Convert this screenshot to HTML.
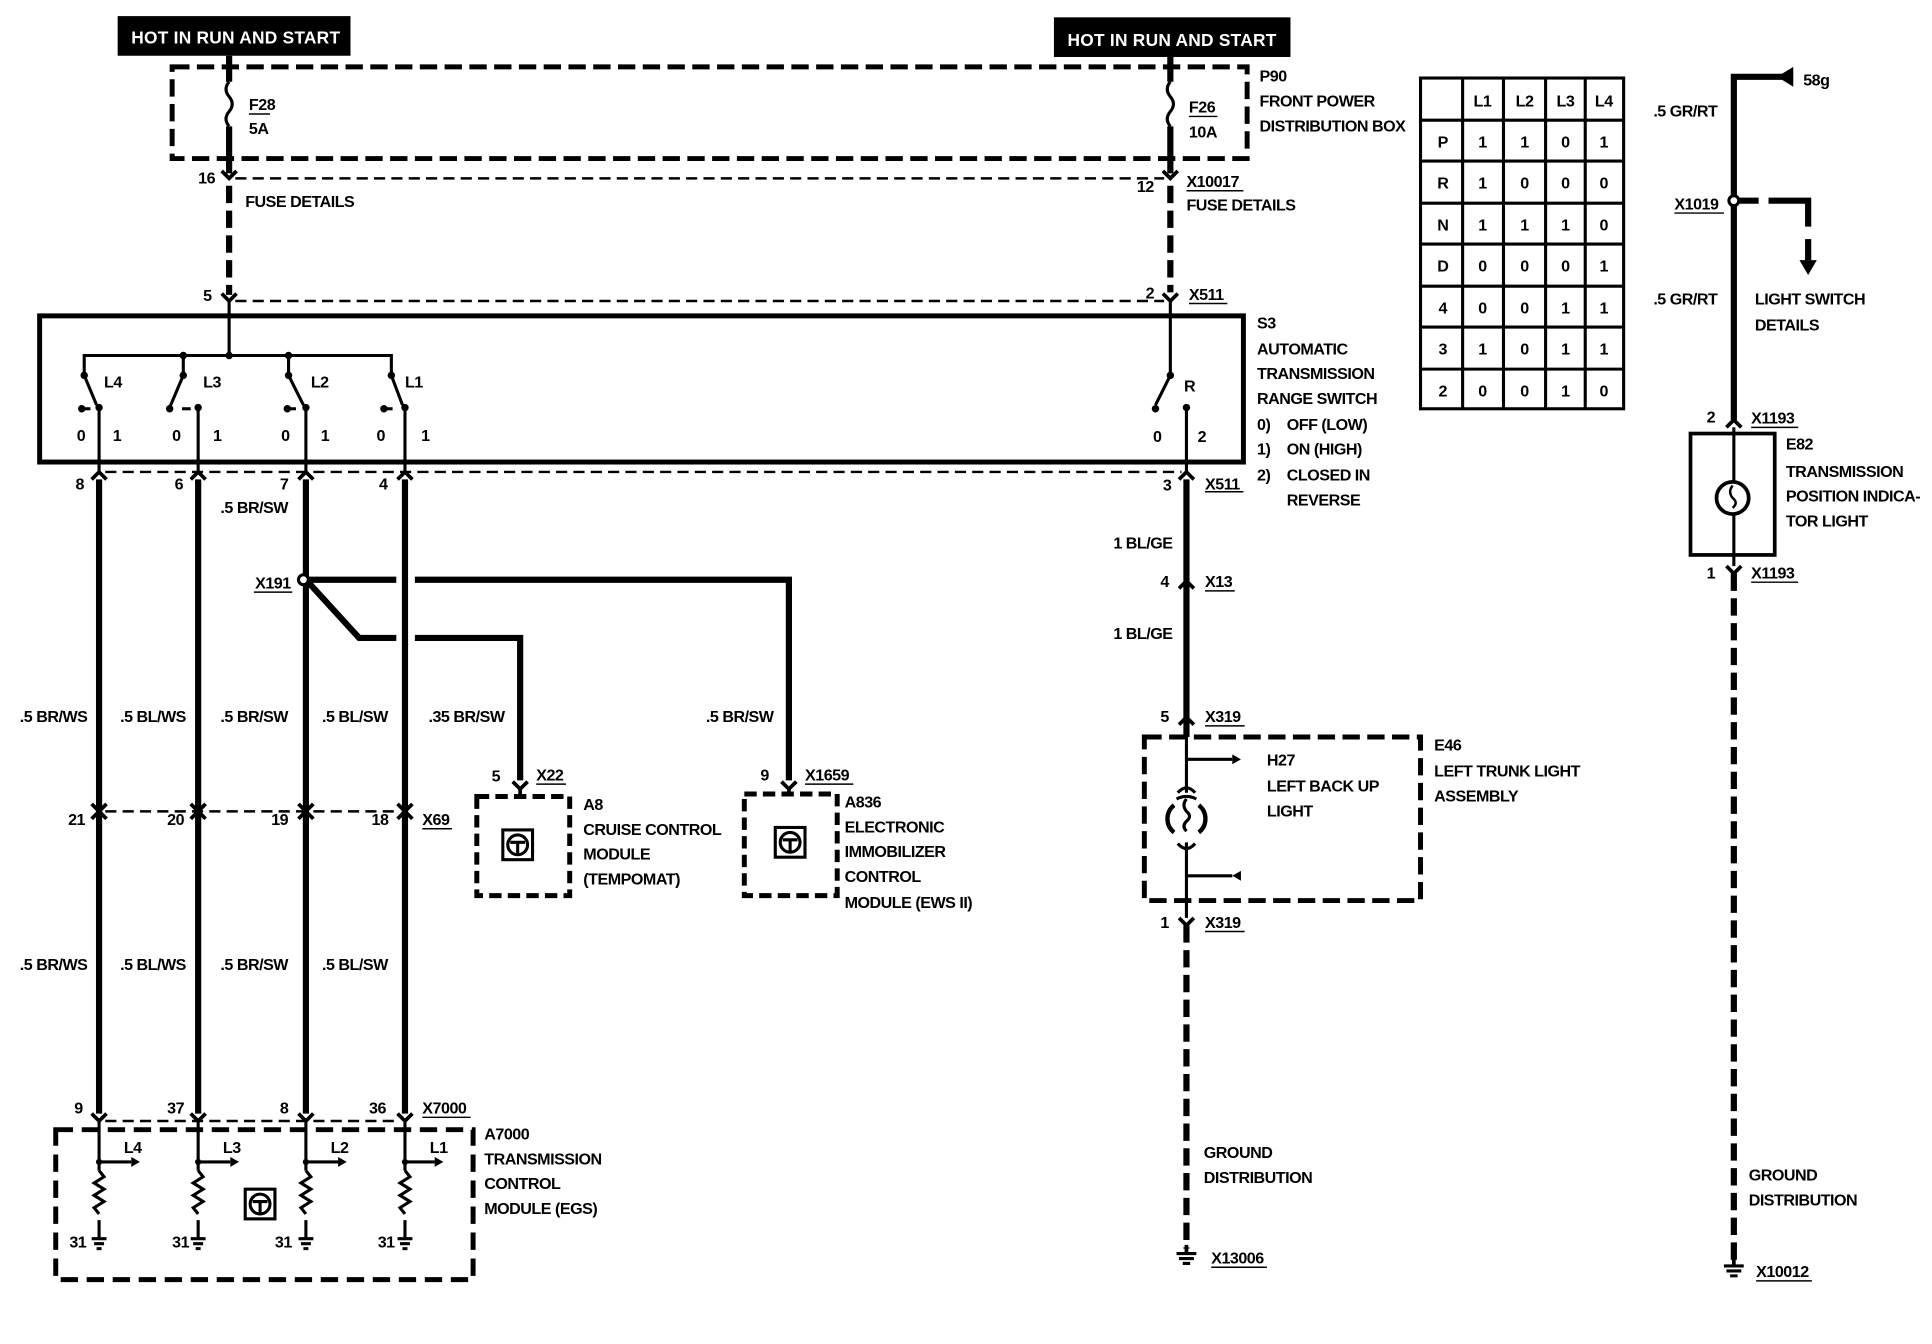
<!DOCTYPE html>
<html><head><meta charset="utf-8"><style>
html,body{margin:0;padding:0;background:#fff;}
svg{display:block;}
text{font-family:"Liberation Sans",sans-serif;font-size:13px;font-weight:bold;fill:#000;letter-spacing:-0.4px;}
.w{fill:#fff;font-size:14px;letter-spacing:0.2px;}
.t{font-size:13px;text-anchor:middle;}
</style></head><body>
<svg width="1932" height="1344" viewBox="0 0 1560 1085" preserveAspectRatio="none" xmlns="http://www.w3.org/2000/svg">
<g fill="none" stroke="#000" stroke-linecap="butt">
<!-- HOT boxes -->
<rect x="95" y="13" width="188" height="32" fill="#000" stroke="none"/>
<rect x="851" y="14" width="191" height="32" fill="#000" stroke="none"/>
<!-- P90 dashed box -->
<rect x="139" y="54" width="868" height="74" stroke-width="4" stroke-dasharray="14,6"/>
<!-- left feed -->
<line x1="185" y1="45" x2="185" y2="66" stroke-width="5"/>
<path d="M185 66 q-5 6 0 12 q5 6 0 12 q-5 6 0 12" stroke-width="2.5"/>
<line x1="185" y1="102" x2="185" y2="140" stroke-width="5"/>
<line x1="185" y1="150" x2="185" y2="238" stroke-width="5" stroke-dasharray="14,6"/>
<!-- right feed -->
<line x1="945" y1="46" x2="945" y2="66" stroke-width="5"/>
<path d="M945 66 q-5 6 0 12 q5 6 0 12 q-5 6 0 12" stroke-width="2.5"/>
<line x1="945" y1="102" x2="945" y2="140" stroke-width="5"/>
<line x1="945" y1="150" x2="945" y2="236" stroke-width="5" stroke-dasharray="14,6"/>
<!-- thin dashed connector lines -->
<line x1="190" y1="144" x2="940" y2="144" stroke-width="2" stroke-dasharray="9,5"/>
<line x1="190" y1="243" x2="940" y2="243" stroke-width="2" stroke-dasharray="9,5"/>
<line x1="85" y1="381" x2="954" y2="381" stroke-width="2" stroke-dasharray="9,5"/>
<line x1="85" y1="655" x2="322" y2="655" stroke-width="2" stroke-dasharray="9,5"/>
<line x1="85" y1="905" x2="322" y2="905" stroke-width="2" stroke-dasharray="9,5"/>
<!-- connectors -->
<g stroke-width="3">
<polyline points="179,138 185,144 191,138"/>
<polyline points="179,237 185,243 191,237"/>
<polyline points="939,138 945,144 951,138"/>
<polyline points="939,237 945,243 951,237"/>
<polyline points="74,387 80,381 86,387"/>
<polyline points="154,387 160,381 166,387"/>
<polyline points="241,387 247,381 253,387"/>
<polyline points="321,387 327,381 333,387"/>
<polyline points="952,387 958,381 964,387"/>
<polyline points="952,475 958,469 964,475"/>
<polyline points="952,585 958,579 964,585"/>
<polyline points="952,741 958,747 964,741"/>
<polyline points="74,649 80,655 86,649"/><polyline points="74,661 80,655 86,661"/>
<polyline points="154,649 160,655 166,649"/><polyline points="154,661 160,655 166,661"/>
<polyline points="241,649 247,655 253,649"/><polyline points="241,661 247,655 253,661"/>
<polyline points="321,649 327,655 333,649"/><polyline points="321,661 327,655 333,661"/>
<polyline points="74,899 80,905 86,899"/>
<polyline points="154,899 160,905 166,899"/>
<polyline points="241,899 247,905 253,899"/>
<polyline points="321,899 327,905 333,899"/>
<polyline points="414,631 420,637 426,631"/>
<polyline points="631,631 637,637 643,631"/>
<polyline points="1394,345 1400,339 1406,345"/>
<polyline points="1394,457 1400,463 1406,457"/>
</g>
<!-- S3 box -->
<rect x="32" y="255" width="972" height="118" stroke-width="4"/>
<line x1="185" y1="243" x2="185" y2="287" stroke-width="2.5"/>
<polyline points="68,303 68,287 316,287 316,303" stroke-width="2.5"/>
<line x1="148" y1="287" x2="148" y2="303" stroke-width="2.5"/>
<line x1="233" y1="287" x2="233" y2="303" stroke-width="2.5"/>
<g stroke-width="2.5">
<line x1="68" y1="303" x2="78" y2="327"/><line x1="80" y1="329" x2="80" y2="381"/>
<line x1="148" y1="303" x2="137" y2="329"/><line x1="160" y1="329" x2="160" y2="381"/>
<line x1="233" y1="303" x2="245" y2="327"/><line x1="247" y1="329" x2="247" y2="381"/>
<line x1="316" y1="303" x2="325" y2="327"/><line x1="327" y1="329" x2="327" y2="381"/>
<line x1="945" y1="243" x2="945" y2="303"/><line x1="945" y1="303" x2="933" y2="327"/><line x1="958" y1="329" x2="958" y2="381"/>
<line x1="66" y1="330" x2="73" y2="330"/><line x1="147" y1="330" x2="154" y2="330"/><line x1="232" y1="330" x2="239" y2="330"/><line x1="310" y1="330" x2="317" y2="330"/>
</g>
<g fill="#000" stroke="none">
<circle cx="185" cy="287" r="3"/><circle cx="68" cy="303" r="3"/><circle cx="148" cy="287" r="3"/><circle cx="148" cy="303" r="3"/><circle cx="233" cy="287" r="3"/><circle cx="233" cy="303" r="3"/><circle cx="316" cy="303" r="3"/>
<circle cx="80" cy="329" r="3"/><circle cx="160" cy="329" r="3"/><circle cx="247" cy="329" r="3"/><circle cx="327" cy="329" r="3"/>
<circle cx="66" cy="330" r="3"/><circle cx="137" cy="330" r="3"/><circle cx="232" cy="330" r="3"/><circle cx="310" cy="330" r="3"/>
<circle cx="945" cy="303" r="3"/><circle cx="958" cy="329" r="3"/><circle cx="933" cy="330" r="3"/>
</g>
<!-- thick wires down -->
<g stroke-width="5">
<line x1="80" y1="387" x2="80" y2="899"/>
<line x1="160" y1="387" x2="160" y2="899"/>
<line x1="247" y1="387" x2="247" y2="899"/>
<line x1="327" y1="387" x2="327" y2="899"/>
<polyline points="247,468 320,468"/>
<polyline points="335,468 637,468 637,630"/>
<polyline points="247,468 290,515 320,515"/>
<polyline points="335,515 420,515 420,630"/>
<line x1="958" y1="387" x2="958" y2="595"/>
</g>
<circle cx="245" cy="468" r="4" fill="#fff" stroke-width="2.5"/>
<!-- A8, A836 -->
<rect x="385" y="643" width="75" height="80" stroke-width="4" stroke-dasharray="10,5"/>
<rect x="601" y="641" width="75" height="82" stroke-width="4" stroke-dasharray="10,5"/>
<line x1="420" y1="637" x2="420" y2="643" stroke-width="3"/>
<line x1="637" y1="637" x2="637" y2="641" stroke-width="3"/>
<g stroke-width="2.5">
<rect x="406" y="670" width="24" height="24"/><circle cx="418" cy="682" r="8"/><path d="M412 680 h12 M418 680 v10"/>
<rect x="626" y="668" width="24" height="24"/><circle cx="638" cy="680" r="8"/><path d="M632 678 h12 M638 678 v10"/>
<rect x="198" y="960" width="24" height="24"/><circle cx="210" cy="972" r="8"/><path d="M204 970 h12 M210 970 v10"/>
</g>
<!-- A7000 -->
<rect x="45" y="912" width="337" height="121" stroke-width="4" stroke-dasharray="14,7"/>
<g stroke-width="2.5">
<line x1="80" y1="905" x2="80" y2="945"/><line x1="80" y1="985" x2="80" y2="1000"/>
<line x1="160" y1="905" x2="160" y2="945"/><line x1="160" y1="985" x2="160" y2="1000"/>
<line x1="247" y1="905" x2="247" y2="945"/><line x1="247" y1="985" x2="247" y2="1000"/>
<line x1="327" y1="905" x2="327" y2="945"/><line x1="327" y1="985" x2="327" y2="1000"/>
<line x1="80" y1="938" x2="106" y2="938"/><line x1="160" y1="938" x2="186" y2="938"/><line x1="247" y1="938" x2="273" y2="938"/><line x1="327" y1="938" x2="351" y2="938"/>
<path d="M80 945 l4 5 l-8 5 l8 5 l-8 5 l8 5 l-8 5 l4 5"/>
<path d="M160 945 l4 5 l-8 5 l8 5 l-8 5 l8 5 l-8 5 l4 5"/>
<path d="M247 945 l4 5 l-8 5 l8 5 l-8 5 l8 5 l-8 5 l4 5"/>
<path d="M327 945 l4 5 l-8 5 l8 5 l-8 5 l8 5 l-8 5 l4 5"/>
<path d="M74 1000 h12 M76 1004 h8 M78 1008 h4"/>
<path d="M154 1000 h12 M156 1004 h8 M158 1008 h4"/>
<path d="M241 1000 h12 M243 1004 h8 M245 1008 h4"/>
<path d="M321 1000 h12 M323 1004 h8 M325 1008 h4"/>
</g>
<g fill="#000" stroke="none">
<path d="M106 934 l7 4 l-7 4z"/><path d="M186 934 l7 4 l-7 4z"/><path d="M273 934 l7 4 l-7 4z"/><path d="M351 934 l7 4 l-7 4z"/>
<circle cx="80" cy="938" r="2.5"/><circle cx="160" cy="938" r="2.5"/><circle cx="247" cy="938" r="2.5"/><circle cx="327" cy="938" r="2.5"/>
</g>
<!-- E46 -->
<rect x="924" y="595" width="223" height="132" stroke-width="4" stroke-dasharray="14,6"/>
<g stroke-width="2.5">
<line x1="958" y1="585" x2="958" y2="640"/>
<line x1="958" y1="680" x2="958" y2="741"/>
<line x1="958" y1="613" x2="995" y2="613"/>
<line x1="958" y1="707" x2="995" y2="707"/>
<path d="M951 640 q7 -8 14 0"/><path d="M951 681 q7 8 14 0"/>
<path d="M948 650 a14 14 0 0 0 0 22" stroke-width="3.5"/><path d="M968 650 a14 14 0 0 1 0 22" stroke-width="3.5"/>
<path d="M950 645 q8 -4 16 0"/>
<path d="M958 645 q-4 5 0 10 q5 4 0 8 q-4 4 0 8"/>
</g>
<path d="M995 609 l7 4 l-7 4z" fill="#000" stroke="none"/>
<path d="M1002 703 l-7 4 l7 4z" fill="#000" stroke="none"/>
<line x1="958" y1="747" x2="958" y2="1008" stroke-width="5" stroke-dasharray="14,6"/>
<path d="M950 1012 h16 M952 1016 h12 M955 1020 h6" stroke-width="2.5"/>
<line x1="958" y1="1005" x2="958" y2="1012" stroke-width="3"/>
<!-- table -->
<g stroke-width="2.5">
<rect x="1147" y="63" width="164" height="267"/>
<line x1="1181" y1="63" x2="1181" y2="330"/><line x1="1214" y1="63" x2="1214" y2="330"/><line x1="1248" y1="63" x2="1248" y2="330"/><line x1="1280" y1="63" x2="1280" y2="330"/>
<line x1="1147" y1="97" x2="1311" y2="97"/><line x1="1147" y1="130" x2="1311" y2="130"/><line x1="1147" y1="164" x2="1311" y2="164"/><line x1="1147" y1="197" x2="1311" y2="197"/><line x1="1147" y1="231" x2="1311" y2="231"/><line x1="1147" y1="264" x2="1311" y2="264"/><line x1="1147" y1="298" x2="1311" y2="298"/>
</g>
<!-- far right -->
<polyline points="1400,339 1400,62 1440,62" stroke-width="5"/>
<path d="M1435 62 l13 -8 v16z" fill="#000" stroke="none"/>
<line x1="1404" y1="162" x2="1420" y2="162" stroke-width="5"/>
<polyline points="1428,162 1460,162 1460,183" stroke-width="5"/>
<line x1="1460" y1="193" x2="1460" y2="210" stroke-width="5"/>
<path d="M1453 210 h14 l-7 12z" fill="#000" stroke="none"/>
<circle cx="1400" cy="162" r="4" fill="#fff" stroke-width="2.5"/>
<rect x="1365" y="350" width="68" height="98" stroke-width="3"/>
<line x1="1400" y1="345" x2="1400" y2="388" stroke-width="2.5"/>
<line x1="1400" y1="416" x2="1400" y2="457" stroke-width="2.5"/>
<circle cx="1399" cy="402" r="13" stroke-width="3"/>
<path d="M1399 392 q-4 5 0 10 q5 4 0 8" stroke-width="2"/>
<line x1="1400" y1="463" x2="1400" y2="1018" stroke-width="5" stroke-dasharray="14,6"/>
<path d="M1392 1022 h16 M1394 1026 h12 M1397 1030 h6" stroke-width="2.5"/>
<line x1="1400" y1="1015" x2="1400" y2="1022" stroke-width="3"/>
<!-- underlines -->
<g stroke-width="1.2">
<line x1="201" y1="92" x2="218" y2="92"/><line x1="960" y1="94" x2="983" y2="94"/>
<line x1="958" y1="154" x2="1004" y2="154"/><line x1="960" y1="245" x2="991" y2="245"/><line x1="973" y1="397" x2="1004" y2="397"/>
<line x1="973" y1="477" x2="997" y2="477"/><line x1="973" y1="586" x2="1005" y2="586"/><line x1="973" y1="752" x2="1005" y2="752"/>
<line x1="205" y1="478" x2="236" y2="478"/><line x1="433" y1="633" x2="457" y2="633"/><line x1="650" y1="633" x2="689" y2="633"/>
<line x1="341" y1="669" x2="365" y2="669"/><line x1="341" y1="902" x2="380" y2="902"/>
<line x1="1352" y1="172" x2="1392" y2="172"/><line x1="1414" y1="345" x2="1452" y2="345"/><line x1="1414" y1="470" x2="1452" y2="470"/>
<line x1="978" y1="1023" x2="1023" y2="1023"/><line x1="1418" y1="1034" x2="1463" y2="1034"/>
</g>
</g>
<!-- TEXT -->
<text class="w" x="106" y="35">HOT IN RUN AND START</text>
<text class="w" x="862" y="37">HOT IN RUN AND START</text>
<text x="201" y="89">F28</text><text x="201" y="108">5A</text>
<text x="960" y="91">F26</text><text x="960" y="111">10A</text>
<text x="1017" y="66">P90</text><text x="1017" y="86">FRONT POWER</text><text x="1017" y="106">DISTRIBUTION BOX</text>
<text x="160" y="148">16</text><text x="198" y="167">FUSE DETAILS</text>
<text x="918" y="155">12</text><text x="958" y="151">X10017</text><text x="958" y="170">FUSE DETAILS</text>
<text x="164" y="243">5</text><text x="925" y="241">2</text><text x="960" y="242">X511</text>
<text x="1015" y="265">S3</text><text x="1015" y="286">AUTOMATIC</text><text x="1015" y="306">TRANSMISSION</text><text x="1015" y="326">RANGE SWITCH</text>
<text x="1015" y="347">0)</text><text x="1039" y="347">OFF (LOW)</text>
<text x="1015" y="367">1)</text><text x="1039" y="367">ON (HIGH)</text>
<text x="1015" y="388">2)</text><text x="1039" y="388">CLOSED IN</text><text x="1039" y="408">REVERSE</text>
<text x="84" y="313">L4</text><text x="164" y="313">L3</text><text x="251" y="313">L2</text><text x="327" y="313">L1</text><text x="956" y="316">R</text>
<text x="62" y="356">0</text><text x="91" y="356">1</text><text x="139" y="356">0</text><text x="172" y="356">1</text><text x="227" y="356">0</text><text x="259" y="356">1</text><text x="304" y="356">0</text><text x="340" y="356">1</text>
<text x="931" y="357">0</text><text x="967" y="357">2</text>
<text x="61" y="395">8</text><text x="141" y="395">6</text><text x="226" y="395">7</text><text x="306" y="395">4</text>
<text x="939" y="396">3</text><text x="973" y="395">X511</text>
<text x="178" y="414">.5 BR/SW</text>
<text x="206" y="475">X191</text>
<text x="899" y="443">1 BL/GE</text><text x="937" y="474">4</text><text x="973" y="474">X13</text>
<text x="899" y="516">1 BL/GE</text><text x="937" y="583">5</text><text x="973" y="583">X319</text>
<text x="16" y="583">.5 BR/WS</text><text x="97" y="583">.5 BL/WS</text><text x="178" y="583">.5 BR/SW</text><text x="260" y="583">.5 BL/SW</text><text x="346" y="583">.35 BR/SW</text><text x="570" y="583">.5 BR/SW</text>
<text x="397" y="631">5</text><text x="433" y="630">X22</text><text x="614" y="630">9</text><text x="650" y="630">X1659</text>
<text x="471" y="654">A8</text><text x="471" y="674">CRUISE CONTROL</text><text x="471" y="694">MODULE</text><text x="471" y="714">(TEMPOMAT)</text>
<text x="682" y="652">A836</text><text x="682" y="672">ELECTRONIC</text><text x="682" y="692">IMMOBILIZER</text><text x="682" y="712">CONTROL</text><text x="682" y="733">MODULE (EWS II)</text>
<text x="55" y="666">21</text><text x="135" y="666">20</text><text x="219" y="666">19</text><text x="300" y="666">18</text><text x="341" y="666">X69</text>
<text x="1023" y="618">H27</text><text x="1023" y="639">LEFT BACK UP</text><text x="1023" y="659">LIGHT</text>
<text x="1158" y="606">E46</text><text x="1158" y="627">LEFT TRUNK LIGHT</text><text x="1158" y="647">ASSEMBLY</text>
<text x="937" y="749">1</text><text x="973" y="749">X319</text>
<text x="16" y="783">.5 BR/WS</text><text x="97" y="783">.5 BL/WS</text><text x="178" y="783">.5 BR/SW</text><text x="260" y="783">.5 BL/SW</text>
<text x="60" y="899">9</text><text x="135" y="899">37</text><text x="226" y="899">8</text><text x="298" y="899">36</text><text x="341" y="899">X7000</text>
<text x="391" y="920">A7000</text><text x="391" y="940">TRANSMISSION</text><text x="391" y="960">CONTROL</text><text x="391" y="980">MODULE (EGS)</text>
<text x="100" y="931">L4</text><text x="180" y="931">L3</text><text x="267" y="931">L2</text><text x="347" y="931">L1</text>
<text x="56" y="1007">31</text><text x="139" y="1007">31</text><text x="222" y="1007">31</text><text x="305" y="1007">31</text>
<text x="972" y="935">GROUND</text><text x="972" y="955">DISTRIBUTION</text><text x="978" y="1020">X13006</text>
<text class="t" x="1197" y="86">L1</text><text class="t" x="1231" y="86">L2</text><text class="t" x="1264" y="86">L3</text><text class="t" x="1295" y="86">L4</text>
<text class="t" x="1165" y="119">P</text><text class="t" x="1197" y="119">1</text><text class="t" x="1231" y="119">1</text><text class="t" x="1264" y="119">0</text><text class="t" x="1295" y="119">1</text>
<text class="t" x="1165" y="152">R</text><text class="t" x="1197" y="152">1</text><text class="t" x="1231" y="152">0</text><text class="t" x="1264" y="152">0</text><text class="t" x="1295" y="152">0</text>
<text class="t" x="1165" y="186">N</text><text class="t" x="1197" y="186">1</text><text class="t" x="1231" y="186">1</text><text class="t" x="1264" y="186">1</text><text class="t" x="1295" y="186">0</text>
<text class="t" x="1165" y="219">D</text><text class="t" x="1197" y="219">0</text><text class="t" x="1231" y="219">0</text><text class="t" x="1264" y="219">0</text><text class="t" x="1295" y="219">1</text>
<text class="t" x="1165" y="253">4</text><text class="t" x="1197" y="253">0</text><text class="t" x="1231" y="253">0</text><text class="t" x="1264" y="253">1</text><text class="t" x="1295" y="253">1</text>
<text class="t" x="1165" y="286">3</text><text class="t" x="1197" y="286">1</text><text class="t" x="1231" y="286">0</text><text class="t" x="1264" y="286">1</text><text class="t" x="1295" y="286">1</text>
<text class="t" x="1165" y="320">2</text><text class="t" x="1197" y="320">0</text><text class="t" x="1231" y="320">0</text><text class="t" x="1264" y="320">1</text><text class="t" x="1295" y="320">0</text>
<text x="1456" y="69">58g</text>
<text x="1335" y="94">.5 GR/RT</text><text x="1352" y="169">X1019</text>
<text x="1335" y="246">.5 GR/RT</text><text x="1417" y="246">LIGHT SWITCH</text><text x="1417" y="267">DETAILS</text>
<text x="1378" y="341">2</text><text x="1414" y="342">X1193</text>
<text x="1442" y="363">E82</text><text x="1442" y="385">TRANSMISSION</text><text x="1442" y="405">POSITION INDICA-</text><text x="1442" y="425">TOR LIGHT</text>
<text x="1378" y="467">1</text><text x="1414" y="467">X1193</text>
<text x="1412" y="953">GROUND</text><text x="1412" y="973">DISTRIBUTION</text><text x="1418" y="1031">X10012</text>
</svg>
</body></html>
